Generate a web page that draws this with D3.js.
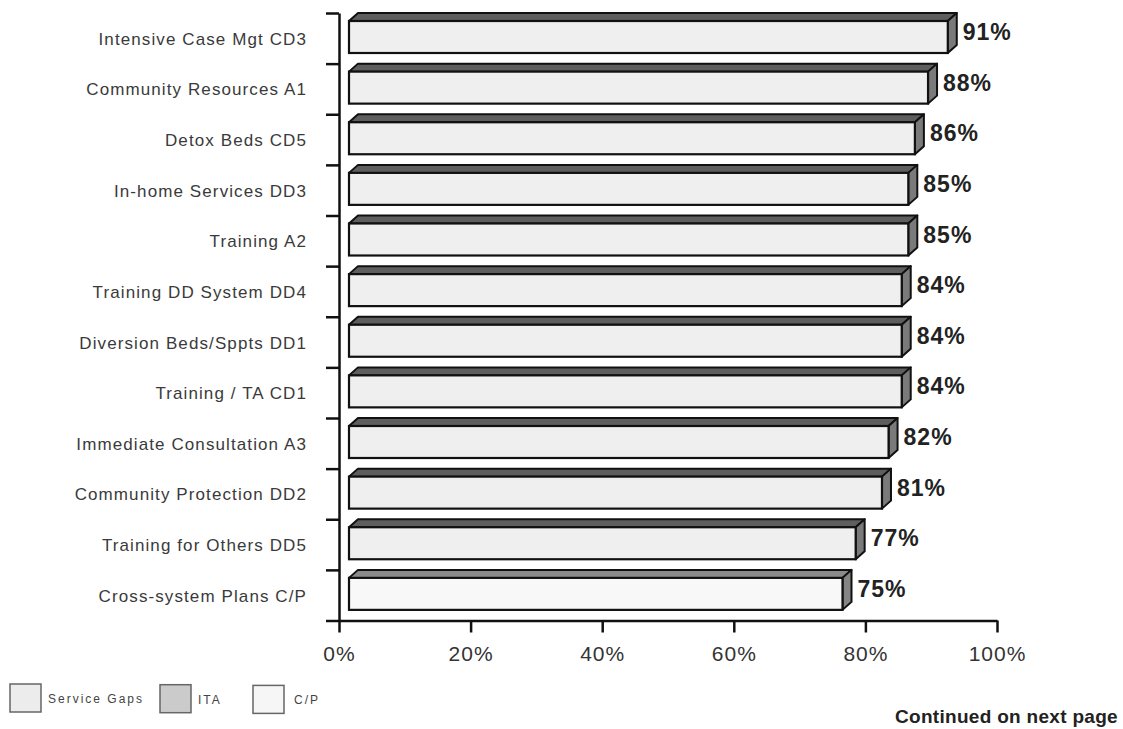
<!DOCTYPE html>
<html>
<head>
<meta charset="utf-8">
<script src="https://cdn.jsdelivr.net/npm/d3@7"></script>
<style>
  html, body { margin: 0; padding: 0; background: #fff; }
  svg { display: block; }
</style>
</head>
<body>
<svg id="chart" width="1123" height="729"></svg>
<script>
// Service categories, top to bottom, with the share reported for each
const categories = [
  "Intensive Case Mgt CD3",
  "Community Resources A1",
  "Detox Beds CD5",
  "In-home Services DD3",
  "Training A2",
  "Training DD System DD4",
  "Diversion Beds/Sppts DD1",
  "Training / TA CD1",
  "Immediate Consultation A3",
  "Community Protection DD2",
  "Training for Others DD5",
  "Cross-system Plans C/P"
];
const values = [91, 88, 86, 85, 85, 84, 84, 84, 82, 81, 77, 75];
const groups = [
  "Service Gaps", "Service Gaps", "Service Gaps", "Service Gaps",
  "Service Gaps", "Service Gaps", "Service Gaps", "Service Gaps",
  "Service Gaps", "Service Gaps", "Service Gaps", "C/P"
];
const xTicks = [0, 20, 40, 60, 80, 100];
const legendItems = ["Service Gaps", "ITA", "C/P"];

const rows = categories.map((c, i) => ({ name: c, value: values[i], group: groups[i] }));

// Face colours for the extruded bars, per group
const faceFill = {
  "Service Gaps": { front: "#efefef", top: "#5e5e5e", side: "#7a7a7a" },
  "ITA":          { front: "#cdcdcd", top: "#5e5e5e", side: "#7a7a7a" },
  "C/P":          { front: "#f8f8f8", top: "#8a8a8a", side: "#858585" }
};
const legendFill = { "Service Gaps": "#ececec", "ITA": "#cbcbcb", "C/P": "#f6f6f6" };

const svg = d3.select("#chart");

const plotLeft = 339, plotRight = 997, plotTop = 13, plotBottom = 620.5;
const x = d3.scaleLinear().domain([0, 100]).range([plotLeft, plotRight]);
const y = d3.scaleBand().domain(categories).range([plotTop, plotBottom]).paddingInner(0);
const yEdges = d3.scaleLinear().domain([0, categories.length]).range([plotTop, plotBottom]);

// Extrusion depth and front-face placement inside each band
const shift = 10, dx = 9, dy = 8, faceOffset = 8, faceH = 32;

const bars = svg.append("g").attr("class", "bars")
  .selectAll("g").data(rows).join("g");

bars.each(function(d) {
  const g = d3.select(this);
  const f = faceFill[d.group];
  const fx = x(0) + shift;
  const fw = x(d.value) - x(0);
  const fy = y(d.name) + faceOffset;
  const pts = a => a.map(p => p.join(",")).join(" ");

  g.append("polygon")
    .attr("points", pts([[fx, fy], [fx + dx, fy - dy], [fx + fw + dx, fy - dy], [fx + fw, fy]]))
    .attr("fill", f.top).attr("stroke", "#111").attr("stroke-width", 2).attr("stroke-linejoin", "round");
  g.append("polygon")
    .attr("points", pts([[fx + fw, fy], [fx + fw + dx, fy - dy], [fx + fw + dx, fy + faceH - dy], [fx + fw, fy + faceH]]))
    .attr("fill", f.side).attr("stroke", "#111").attr("stroke-width", 2).attr("stroke-linejoin", "round");
  g.append("rect")
    .attr("x", fx).attr("y", fy).attr("width", fw).attr("height", faceH)
    .attr("fill", f.front).attr("stroke", "#111").attr("stroke-width", 2.2);

  g.append("text")
    .attr("x", x(d.value) + shift + dx + 6)
    .attr("y", y(d.name) + 19)
    .attr("dominant-baseline", "central")
    .attr("font-family", "Liberation Sans, Arial, sans-serif")
    .attr("font-weight", "bold")
    .attr("font-size", 23)
    .attr("letter-spacing", 1)
    .attr("fill", "#222")
    .text(d.value + "%");
});

// Category axis: ticks on band boundaries
const yAxis = svg.append("g")
  .attr("transform", `translate(${plotLeft},0)`)
  .call(d3.axisLeft(yEdges).tickValues(d3.range(categories.length + 1)).tickFormat("").tickSize(13).tickSizeOuter(0));
yAxis.select(".domain").attr("stroke", "#111").attr("stroke-width", 2.5);
yAxis.selectAll(".tick line").attr("stroke", "#111").attr("stroke-width", 2.5);

// Category labels
svg.append("g").selectAll("text").data(rows).join("text")
  .attr("x", 307)
  .attr("y", d => y(d.name) + y.bandwidth() / 2 + 1)
  .attr("text-anchor", "end")
  .attr("dominant-baseline", "central")
  .attr("font-family", "Liberation Sans, Arial, sans-serif")
  .attr("font-size", 17)
  .attr("letter-spacing", 1.1)
  .attr("fill", "#3a3a3a")
  .text(d => d.name);

// Percentage axis
const xAxis = svg.append("g")
  .attr("transform", `translate(0,${plotBottom})`)
  .call(d3.axisBottom(x).tickValues(xTicks).tickFormat(d => d + "%").tickSize(12).tickSizeOuter(0).tickPadding(14));
xAxis.select(".domain").attr("stroke", "#111").attr("stroke-width", 2.5);
xAxis.selectAll(".tick line").attr("stroke", "#111").attr("stroke-width", 2.5);
xAxis.selectAll(".tick text")
  .attr("font-family", "Liberation Sans, Arial, sans-serif")
  .attr("font-size", 21)
  .attr("letter-spacing", 1)
  .attr("fill", "#333");

// Legend
const legendX = [10, 160, 253];
const legend = svg.append("g").selectAll("g").data(legendItems).join("g")
  .attr("transform", (d, i) => `translate(${legendX[i]},${684 + i * 0.7})`);
legend.append("rect")
  .attr("width", 31).attr("height", 28)
  .attr("fill", d => legendFill[d])
  .attr("stroke", "#666").attr("stroke-width", 1.5);
legend.append("text")
  .attr("x", d => d === "C/P" ? 41 : 38)
  .attr("y", 15)
  .attr("dominant-baseline", "central")
  .attr("font-family", "Liberation Sans, Arial, sans-serif")
  .attr("font-size", 12)
  .attr("letter-spacing", 2)
  .attr("fill", "#444")
  .text(d => d);

// Footer note
svg.append("text")
  .attr("x", 1118).attr("y", 716)
  .attr("text-anchor", "end")
  .attr("dominant-baseline", "central")
  .attr("font-family", "Liberation Sans, Arial, sans-serif")
  .attr("font-size", 19)
  .attr("font-weight", "bold")
  .attr("letter-spacing", 0.3)
  .attr("fill", "#222")
  .text("Continued on next page");
</script>
</body>
</html>
